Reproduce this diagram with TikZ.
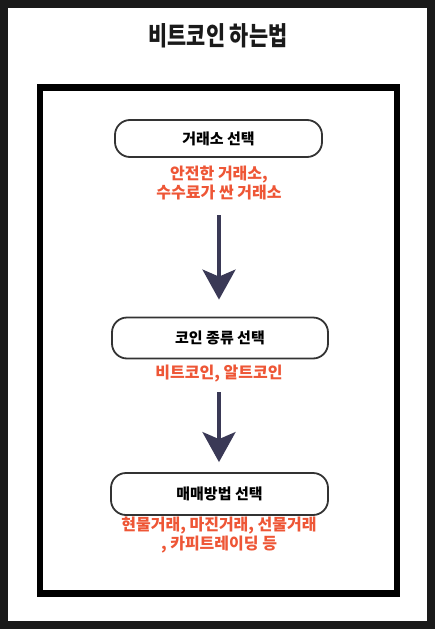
\documentclass[tikz,border=0pt]{standalone}
\usepackage{fontspec}
\usetikzlibrary{arrows.meta}
\newfontfamily\kr{Noto Sans CJK KR}
\newfontfamily\krtitle[FakeStretch=0.8]{Noto Sans CJK KR}
\definecolor{framedark}{HTML}{1A1A1A}
\definecolor{redtxt}{HTML}{EE5636}
\definecolor{arrcol}{HTML}{3A3956}
\definecolor{boxline}{HTML}{333333}
\tikzset{
  stepbox/.style={draw=boxline, line width=1.8pt, rounded corners=15pt, inner sep=0pt,
    font=\kr\bfseries\fontsize{15}{18}\selectfont, text=black},
  note/.style={font=\kr\bfseries\fontsize{16}{19.5}\selectfont, text=redtxt, align=center, inner sep=0pt},
  arr/.style={draw=arrcol, line width=3.5pt, -{Stealth[length=30pt, width=33pt, inset=7pt]}}
}
\begin{document}
\begin{tikzpicture}[x=1pt,y=-1pt]
\useasboundingbox (0,0) rectangle (435,629);
\fill[framedark] (0,0) rectangle (435,629);
\fill[white] (8,8) rectangle (427,621);
\node[font=\krtitle\bfseries\fontsize{26}{30}\selectfont, text=framedark] (title) at (218,36) {비트코인 하는법};
\draw[line width=6.5pt] (40,87.5) rectangle (397,593.5);
\node[stepbox, minimum width=207pt, minimum height=37pt] (b1) at (218.5,138.5) {거래소 선택};
\node[note] (r1) at (219,183) {안전한 거래소,\\수수료가 싼 거래소};
\node[stepbox, minimum width=216pt, minimum height=41pt] (b2) at (220,338) {코인 종류 선택};
\node[note] (r2) at (219,374) {비트코인, 알트코인};
\node[stepbox, minimum width=217pt, minimum height=42pt] (b3) at (219.5,494) {매매방법 선택};
\node[note] (r3) at (219,535) {현물거래, 마진거래, 선물거래\\, 카피트레이딩 등};
\coordinate (a1s) at (219,215);
\coordinate (a2s) at (219,392);
\draw[arr, shorten >=17pt] (a1s) -- (a1s |- b2.north);
\draw[arr, shorten >=10pt] (a2s) -- (a2s |- b3.north);
\end{tikzpicture}
\end{document}
